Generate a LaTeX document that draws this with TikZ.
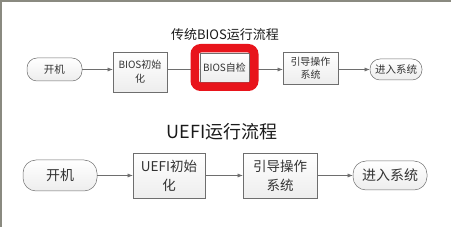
\documentclass[tikz,border=0pt]{standalone}
\usepackage{fontspec}
\setmainfont{Noto Sans CJK SC}
\usetikzlibrary{arrows.meta,positioning,fit}
\definecolor{ink}{HTML}{1A1A1A}
\definecolor{ink2}{HTML}{333333}
\definecolor{edge}{HTML}{6E6E6E}
\definecolor{frame}{HTML}{8A8A80}
\definecolor{alert}{HTML}{E8141B}

\begin{document}
\begin{tikzpicture}[
  x=1pt, y=-1pt,
  >={Latex[length=1.8mm,width=1.4mm]},
  proc/.style={draw=edge, line width=0.5pt, top color=white, bottom color=gray!14, align=center, inner sep=1pt, text=ink2},
  term/.style={proc, rounded corners=10pt},
  title/.style={text=ink, inner sep=0pt},
  arr/.style={->, draw=edge, line width=0.5pt}
]
\useasboundingbox (0,0) rectangle (451,227);
\draw[frame, line width=1.5pt] (1,227) -- (1,1) -- (451,1);

% traditional BIOS
\node[title, font=\fontsize{13}{15}\selectfont] (t1) at (225,35) {传统BIOS运行流程};
\node[term, minimum width=55pt, minimum height=23pt, font=\fontsize{10.5}{12}\selectfont] (on1) at (54.5,69.5) {开机};
\node[proc, minimum width=54pt, minimum height=40pt, font=\fontsize{10}{14}\selectfont] (init1) at (140,72) {BIOS初始\\化};
\node[proc, minimum width=49pt, minimum height=29pt, font=\fontsize{10}{12}\selectfont] (post) at (224.5,67.5) {BIOS自检};
\node[proc, minimum width=55pt, minimum height=32pt, font=\fontsize{10}{13}\selectfont] (boot1) at (310.5,68) {引导操作\\系统};
\node[term, minimum width=52pt, minimum height=21pt, font=\fontsize{10.5}{12}\selectfont] (os1) at (396,69.5) {进入系统};
\draw[arr] (on1) -- (on1 -| init1.west);
\draw[arr] (init1.east |- on1) -- (on1 -| post.west);
\draw[arr] (post.east |- on1) -- (on1 -| boot1.west);
\draw[arr] (boot1.east |- on1) -- (os1);
\node[draw=alert, line width=8.5pt, rounded corners=6pt, inner xsep=5pt, inner ysep=4.5pt, fit=(post)] (mark) {};

% UEFI
\node[title, font=\fontsize{18}{20}\selectfont] (t2) at (222,132) {UEFI运行流程};
\node[term, minimum width=74pt, minimum height=31pt, rounded corners=13pt, font=\fontsize{14}{16}\selectfont] (on2) at (60,175.5) {开机};
\node[proc, minimum width=72pt, minimum height=45pt, font=\fontsize{13.5}{19}\selectfont] (init2) at (169,175.5) {UEFI初始\\化};
\node[proc, minimum width=74pt, minimum height=45pt, font=\fontsize{13.5}{19}\selectfont] (boot2) at (280,175.5) {引导操作\\系统};
\node[term, minimum width=74pt, minimum height=29pt, rounded corners=13pt, font=\fontsize{14}{16}\selectfont] (os2) at (390,175.5) {进入系统};
\foreach \a/\b in {on2/init2, init2/boot2, boot2/os2} \draw[arr] (\a) -- (\b);
\end{tikzpicture}
\end{document}
